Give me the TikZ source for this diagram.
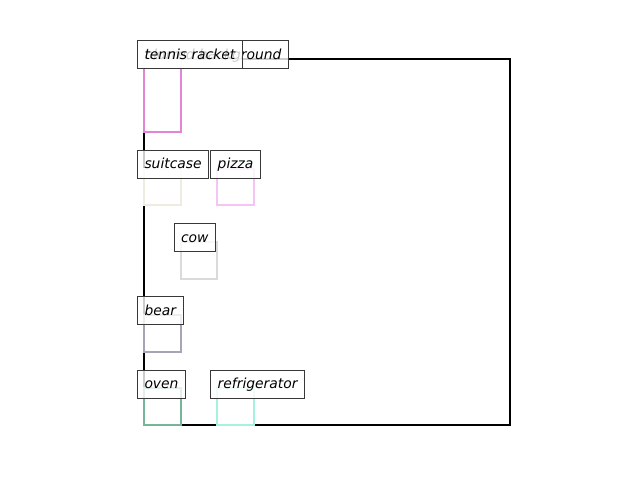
\documentclass[tikz,border=0pt]{standalone}
\usepackage{fontspec}
\setmainfont{DejaVu Sans}
\begin{document}
\begin{tikzpicture}[x=0.75pt,y=-0.75pt]
\definecolor{cracket}{RGB}{227,133,214}
\definecolor{csuitcase}{RGB}{238,236,222}
\definecolor{cpizza}{RGB}{245,196,245}
\definecolor{ccow}{RGB}{218,218,218}
\definecolor{cbear}{RGB}{165,165,180}
\definecolor{coven}{RGB}{118,182,152}
\definecolor{cfridge}{RGB}{166,242,224}
\tikzset{
  objbox/.style={line width=1.5pt},
  lbl/.style={anchor=base west, draw=black!78, line width=0.75pt, fill=white, fill opacity=0.8, text opacity=1,
    inner xsep=5.25pt, inner ysep=0pt, text height=13.8pt, text depth=7.2pt,
    font=\fontsize{10.4}{12}\selectfont\itshape}
}
\useasboundingbox (0,0) rectangle (640,480);
% background frame
\draw[objbox, black] (144,59) rectangle (510,425);
% object boxes
\draw[objbox, cracket] (144,59) rectangle (180.6,132.2);
\draw[objbox, csuitcase] (144,168.8) rectangle (180.6,205.4);
\draw[objbox, cpizza] (217.2,168.8) rectangle (253.8,205.4);
\draw[objbox, ccow] (180.6,242) rectangle (217.2,278.6);
\draw[objbox, cbear] (144,315.2) rectangle (180.6,351.8);
\draw[objbox, coven] (144,388.4) rectangle (180.6,425);
\draw[objbox, cfridge] (217.2,388.4) rectangle (253.8,425);
% labels
\node[lbl] (lbg) at (137,59) {blurred background};
\node[lbl] (lracket) at (137,59) {tennis racket};
\node[lbl] (lsuitcase) at (137,168.8) {suitcase};
\node[lbl] (lpizza) at (210.2,168.8) {pizza};
\node[lbl] (lcow) at (173.6,242) {cow};
\node[lbl] (lbear) at (137,315.2) {bear};
\node[lbl] (loven) at (137,388.4) {oven};
\node[lbl] (lfridge) at (210.2,388.4) {refrigerator};
\end{tikzpicture}
\end{document}
